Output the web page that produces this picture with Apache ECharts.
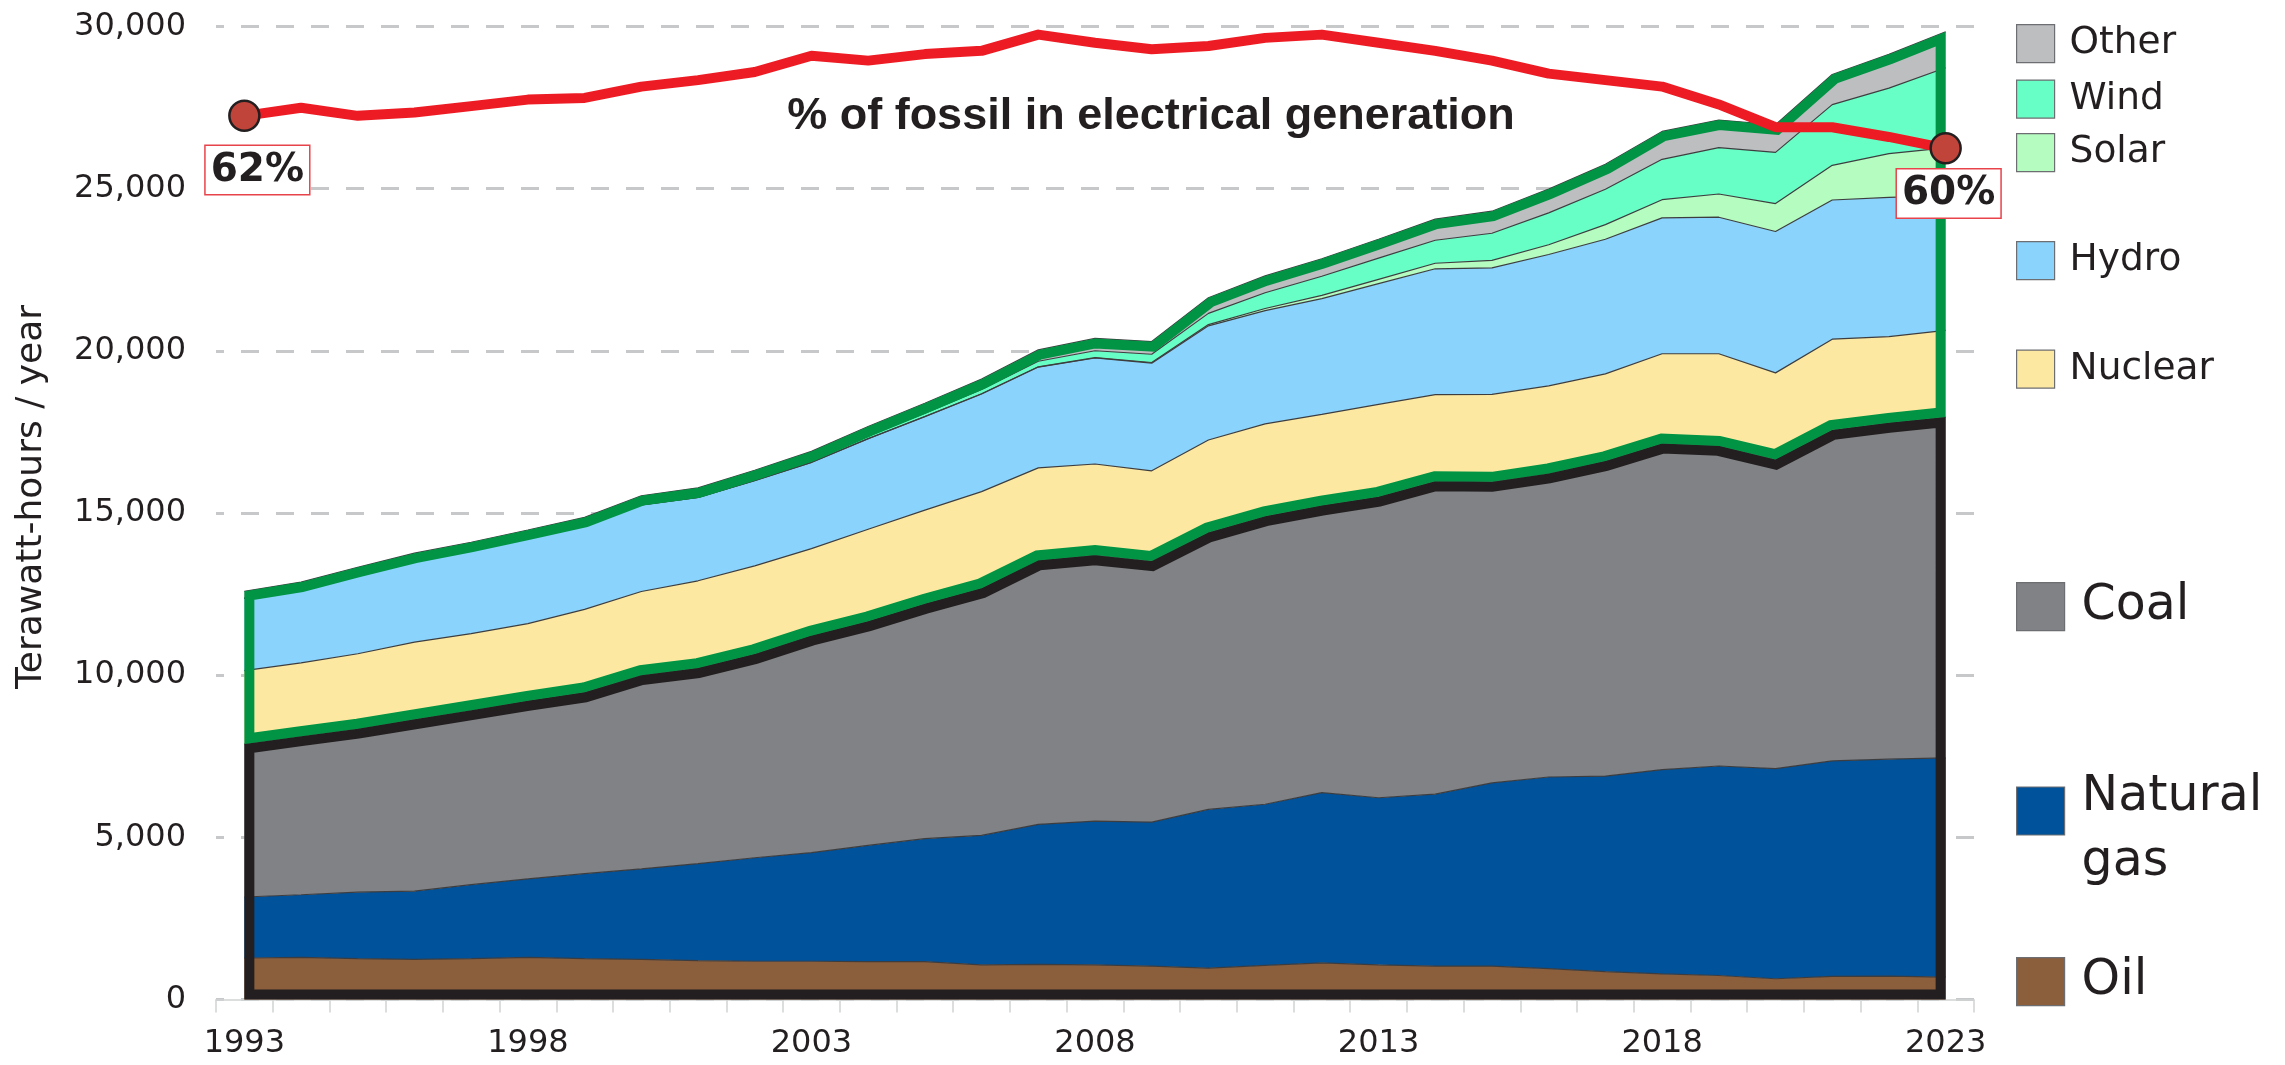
<!DOCTYPE html>
<html>
<head>
<meta charset="utf-8">
<script src="https://cdn.jsdelivr.net/npm/echarts@6/dist/echarts.min.js"></script>
<style>
html,body{margin:0;padding:0;background:#ffffff;}
#chart{width:2285px;height:1065px;}
</style>
</head>
<body>
<div id="chart"></div>
<script>
// ---------- data (TWh / year) ----------
const years = ['1993','1994','1995','1996','1997','1998','1999','2000','2001','2002',
               '2003','2004','2005','2006','2007','2008','2009','2010','2011','2012',
               '2013','2014','2015','2016','2017','2018','2019','2020','2021','2022','2023'];

const oil     = [1280,1300,1260,1240,1260,1300,1260,1240,1200,1180, 1180,1170,1170,1070,1080,1070,1030,970,1050,1130, 1070,1030,1030,950,860,790,740,640,710,720,690];
const gas     = [1880,1930,2050,2100,2280,2420,2620,2790,2990,3190, 3350,3580,3790,3990,4320,4430,4440,4890,4970,5250, 5150,5300,5650,5910,6030,6300,6460,6480,6650,6690,6760];
const coal    = [4720,4890,5040,5300,5380,5490,5590,5970,6030,6280, 6690,6910,7240,7620,8140,8200,8050,8540,8880,8850, 9280,9650,9280,9360,9710,10050,9870,9530,10200,10370,10510];
const nuclear = [2260,2260,2310,2380,2360,2380,2560,2580,2690,2720, 2680,2840,2890,2980,2850,2810,2780,2850,2850,2810, 2850,2670,2700,2700,2690,2770,2840,2670,2800,2660,2670];
const hydro   = [2230,2270,2440,2510,2580,2640,2580,2670,2570,2630, 2660,2790,2880,3010,3110,3270,3320,3520,3490,3570, 3720,3880,3900,4050,4150,4190,4210,4360,4290,4290,4150];
const solar   = [0,0,0,1,1,1,1,1,2,2, 3,3,4,6,8,12,20,40,65,100, 135,170,230,300,450,560,715,860,1070,1350,1480];
const wind    = [4,4,6,6,8,11,15,31,38,52, 63,85,104,133,171,210,255,345,485,590, 655,710,835,985,1090,1245,1430,1580,1870,2020,2470];
const other   = [210,215,220,225,230,235,240,250,255,265, 275,290,305,320,350,380,390,480,520,540, 580,650,680,730,770,860,850,850,930,1040,1110];

// % of fossil in electrical generation
const fossilShare = [62.0,62.5,62.0,62.2,62.6,63.0,63.1,63.8,64.2,64.7, 65.7,65.4,65.8,66.0,67.0,66.5,66.1,66.3,66.8,67.0, 66.5,66.0,65.4,64.6,64.2,63.8,62.7,61.3,61.3,60.7,60.0];

// ---------- styling ----------
const FONT = '"DejaVu Sans", sans-serif';
const TITLE_FONT = '"Liberation Sans", Arial, sans-serif';
const INK = '#231f20';
const layers = [
  {name: 'Oil',         data: oil,     color: '#8b5e3c'},
  {name: 'Natural gas', data: gas,     color: '#00529b'},
  {name: 'Coal',        data: coal,    color: '#808285'},
  {name: 'Nuclear',     data: nuclear, color: '#fde8a1'},
  {name: 'Hydro',       data: hydro,   color: '#8ad3fc'},
  {name: 'Solar',       data: solar,   color: '#b4fcc0'},
  {name: 'Wind',        data: wind,    color: '#67ffc6'},
  {name: 'Other',       data: other,   color: '#bcbec0'}
];

const OUTLINE_W = 10;

// offset a closed polygon inward by d pixels (miter joins)
function insetPolygon(pts, d) {
  const P = [];
  pts.forEach(p => {
    const q = P[P.length - 1];
    if (!q || Math.hypot(p[0] - q[0], p[1] - q[1]) > 0.01) P.push(p);
  });
  if (P.length > 2 && Math.hypot(P[0][0] - P[P.length-1][0], P[0][1] - P[P.length-1][1]) < 0.01) P.pop();
  const n = P.length;
  let area = 0;
  for (let i = 0; i < n; i++) {
    const a = P[i], b = P[(i + 1) % n];
    area += a[0] * b[1] - b[0] * a[1];
  }
  const sgn = area > 0 ? 1 : -1;
  const E = [];
  for (let i = 0; i < n; i++) {
    const a = P[i], b = P[(i + 1) % n];
    const dx = b[0] - a[0], dy = b[1] - a[1];
    const len = Math.hypot(dx, dy);
    const ux = dx / len, uy = dy / len;
    const nx = -uy * sgn, ny = ux * sgn;
    E.push({ax: a[0] + nx * d, ay: a[1] + ny * d, ux, uy});
  }
  const out = [];
  for (let i = 0; i < n; i++) {
    const e1 = E[(i - 1 + n) % n], e2 = E[i];
    const cr = e1.ux * e2.uy - e1.uy * e2.ux;
    if (Math.abs(cr) < 1e-6) {
      out.push([e2.ax, e2.ay]);
    } else {
      const t = ((e2.ax - e1.ax) * e2.uy - (e2.ay - e1.ay) * e2.ux) / cr;
      out.push([e1.ax + t * e1.ux, e1.ay + t * e1.uy]);
    }
  }
  return out;
}

function renderOutlines(params, api) {
  if (params.dataIndex !== 0) return;
  const fossil = years.map((_, i) => oil[i] + gas[i] + coal[i]);
  const total = years.map((_, i) => fossil[i] + nuclear[i] + hydro[i] + solar[i] + wind[i] + other[i]);
  const F = fossil.map((v, i) => api.coord([i, v]));
  const T = total.map((v, i) => api.coord([i, v]));
  const y0 = api.coord([0, 0])[1];
  const fossilPoly = [[F[0][0], y0]].concat(F, [[F[F.length - 1][0], y0]]);
  const cleanPoly = F.concat(T.slice().reverse());
  return {
    type: 'group',
    children: [
      {type: 'polygon', shape: {points: insetPolygon(fossilPoly, OUTLINE_W / 2)},
       style: {fill: 'none', stroke: INK, lineWidth: OUTLINE_W, lineJoin: 'miter', miterLimit: 20}},
      {type: 'polygon', shape: {points: insetPolygon(cleanPoly, OUTLINE_W / 2)},
       style: {fill: 'none', stroke: '#009444', lineWidth: OUTLINE_W, lineJoin: 'miter', miterLimit: 20}}
    ]
  };
}

function legendItem(name, top, size, fontSize, extra) {
  return Object.assign({
    data: [name], left: 2016, top: top, orient: 'vertical', padding: 0, itemGap: 0,
    itemWidth: size, itemHeight: size, icon: 'rect', selectedMode: false,
    itemStyle: {borderColor: '#6d6e71', borderWidth: 1.2},
    textStyle: {fontFamily: FONT, fontSize: fontSize, color: INK, lineHeight: size, padding: [0, 0, 0, 10]}
  }, extra || {});
}

const last = fossilShare.length - 1;
const shareData = fossilShare.map((v, i) => {
  if (i !== 0 && i !== last) return v;
  return {
    value: v, symbol: 'circle', symbolSize: 30,
    itemStyle: {color: '#c0443a', borderColor: INK, borderWidth: 2.5},
    label: {
      show: true, position: 'bottom',
      distance: i === 0 ? 14 : 5, offset: i === 0 ? [13, 0] : [3, 0],
      formatter: p => Math.round(p.value) + '%',
      fontFamily: FONT, fontSize: 39, fontWeight: 'bold', color: INK, lineHeight: 39,
      backgroundColor: '#ffffff', borderColor: '#e8434b', borderWidth: 1.5,
      padding: [5, 5, 4, 5]
    }
  };
});

const series = layers.map(l => ({
  name: l.name, type: 'line', stack: 'total', data: l.data,
  symbol: 'none', smooth: false, z: 2,
  lineStyle: {width: 1.2, color: '#3d3d3f'},
  itemStyle: {color: l.color},
  areaStyle: {color: l.color, opacity: 1},
  emphasis: {disabled: true}
}));
series.push({
  name: 'outline', type: 'custom', coordinateSystem: 'cartesian2d',
  data: [[0, 0]], encode: {x: 0, y: 1}, z: 3, silent: true,
  renderItem: renderOutlines
});
series.push({
  name: '% of fossil', type: 'line', yAxisIndex: 1, data: shareData,
  symbol: 'none', z: 5, silent: true,
  lineStyle: {color: '#ed1c24', width: 10, join: 'round', cap: 'round'},
  itemStyle: {color: '#ed1c24'}
});

const option = {
  animation: false,
  backgroundColor: '#ffffff',
  textStyle: {fontFamily: FONT},
  title: {
    text: '% of fossil in electrical generation',
    left: 1151, top: 94, textAlign: 'center', padding: 0,
    textStyle: {fontFamily: TITLE_FONT, fontSize: 45, fontWeight: 'bold', color: INK, lineHeight: 45}
  },
  grid: {left: 216, right: 311, top: 26.5, bottom: 65.5, containLabel: false},
  xAxis: {
    type: 'category', data: years, boundaryGap: true,
    axisLine: {lineStyle: {color: '#d1d3d4', width: 1.5}},
    axisTick: {show: true, interval: 0, length: 13, lineStyle: {color: '#d1d3d4', width: 1.5}},
    axisLabel: {interval: 4, margin: 28, fontFamily: FONT, fontSize: 32, color: INK},
    splitLine: {show: false}
  },
  yAxis: [
    {
      type: 'value', min: 0, max: 30000, interval: 5000,
      axisLine: {show: false}, axisTick: {show: false},
      axisLabel: {margin: 30, fontFamily: FONT, fontSize: 32, color: INK,
                  formatter: v => v.toLocaleString('en-US')},
      splitLine: {lineStyle: {color: '#c7c8ca', width: 3, type: [18, 17], dashOffset: 10}},
      name: 'Terawatt-hours / year', nameLocation: 'middle', nameGap: 166, nameRotate: 90,
      nameTextStyle: {fontFamily: FONT, fontSize: 36, color: INK, padding: [0, 0, 0, 32]}
    },
    {type: 'value', min: 7.6, max: 67.5, show: false, splitLine: {show: false}}
  ],
  legend: [
    legendItem('Other', 24, 38, 37.5),
    legendItem('Wind', 79.5, 38, 37.5),
    legendItem('Solar', 133, 38, 37.5),
    legendItem('Hydro', 241, 38, 37.5),
    legendItem('Nuclear', 349.5, 38, 37.5),
    legendItem('Coal', 582, 48, 49, {textStyle: {fontFamily: FONT, fontSize: 49, color: INK, lineHeight: 48, padding: [0, 0, 0, 12]}}),
    legendItem('Natural gas', 741, 48, 49, {
      formatter: () => '{s|}\n{t|Natural}\n{t|gas}',
      textStyle: {fontFamily: FONT, fontSize: 49, color: INK, padding: [0, 0, 0, 12],
        rich: {
          s: {fontSize: 10, lineHeight: 38},
          t: {fontFamily: FONT, fontSize: 49, lineHeight: 65, color: INK}
        }}
    }),
    legendItem('Oil', 957, 48, 49, {textStyle: {fontFamily: FONT, fontSize: 49, color: INK, lineHeight: 48, padding: [0, 0, 0, 12]}})
  ],
  series: series
};

const chart = echarts.init(document.getElementById('chart'), null, {renderer: 'canvas'});
chart.setOption(option);
</script>
</body>
</html>
